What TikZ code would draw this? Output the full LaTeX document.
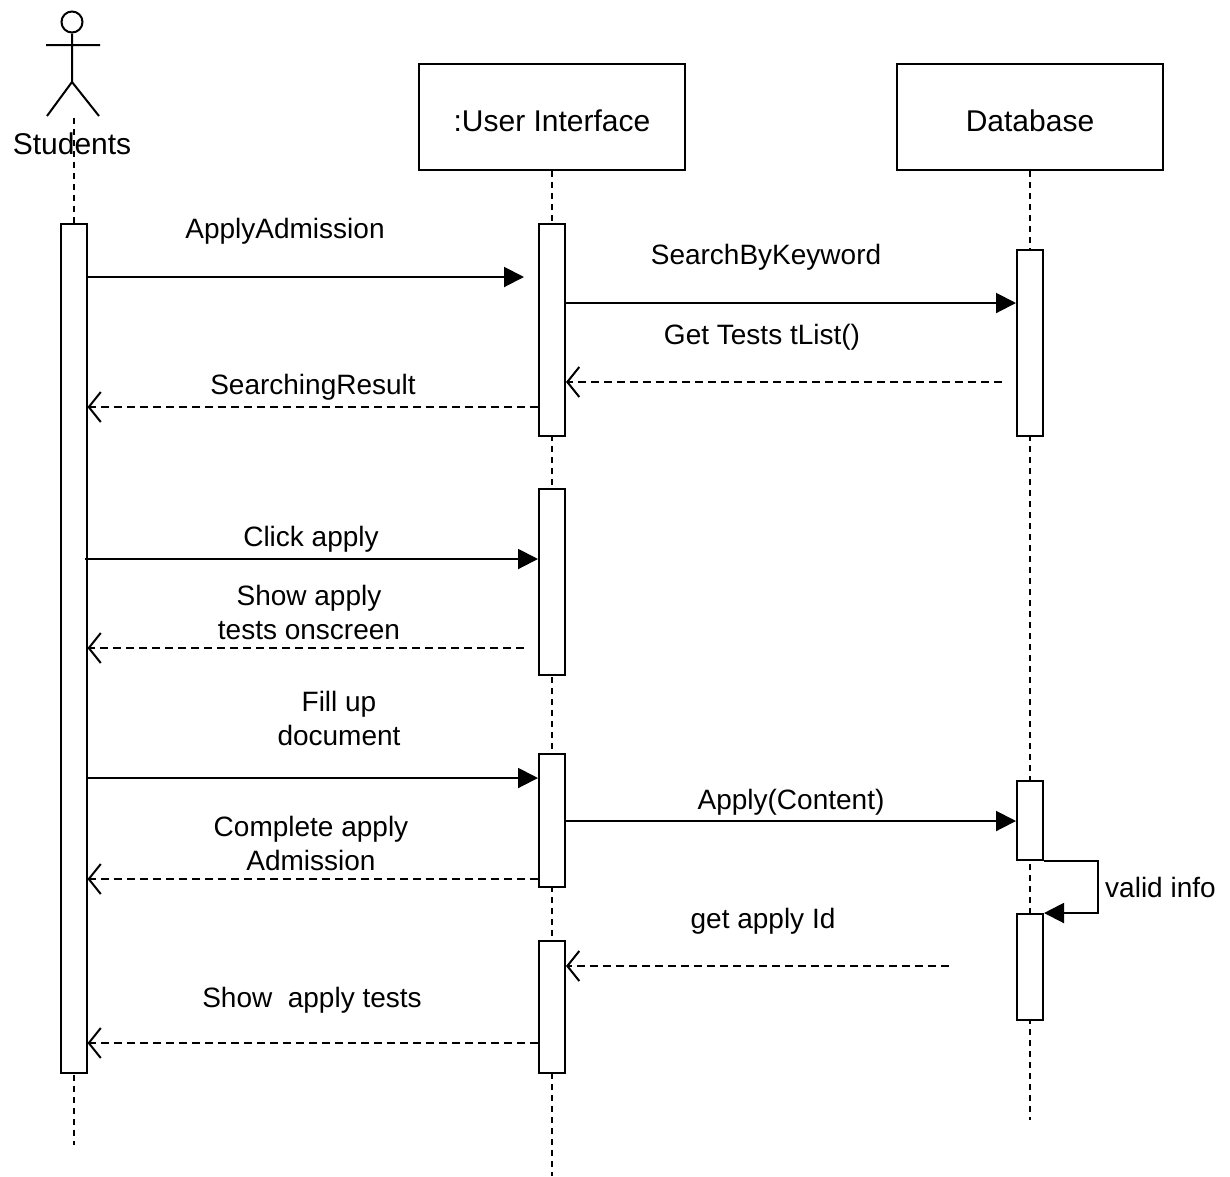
\documentclass[tikz,border=0pt]{standalone}
\usepackage{fontspec}
\setmainfont{Liberation Sans}
\usetikzlibrary{arrows.meta,positioning}
\tikzset{obj/.style={rectangle,draw,line width=2pt,minimum width=266pt,minimum height=106pt,text height=28pt,text depth=0pt,font=\fontsize{30}{36}\selectfont},
  act/.style={rectangle,draw,fill=white,line width=2pt,minimum width=26pt,inner sep=0pt},
  lbl/.style={inner sep=1pt,align=center,yshift=-3pt,font=\fontsize{28}{34}\selectfont},
  life/.style={line width=1.6pt,dash pattern=on 6pt off 5pt},
  msg/.style={line width=2pt,-{Triangle[length=20pt,width=20pt]}},
  ret/.style={line width=1.6pt,dash pattern=on 8pt off 5pt,-{Straight Barb[length=12pt,width=30pt,line width=2pt]}}}

\begin{document}
\begin{tikzpicture}[x=1pt,y=-1pt]
  \useasboundingbox (0,0) rectangle (1230,1176);
  % actor and objects
  \node[circle,draw,line width=2pt,minimum size=21pt,inner sep=0pt] (head) at (72,22) {};
  \coordinate (hip) at (72,82);
  \draw[line width=2pt] (head.south) -- (hip) (46,45) -- (100,45) (47,116) -- (hip) -- (99,116);
  \node[font=\fontsize{30}{36}\selectfont] (stud) at (72,144) {Students};
  \node[obj] (ui) at (552,117) {:User Interface};
  \node[obj] (db) at (1030,117) {Database};
  % lifelines
  \coordinate (sEnd) at (74,1145);
  \coordinate (uEnd) at (552,1176);
  \coordinate (dEnd) at (1030,1120);
  \draw[life] (74,118) -- (sEnd);
  \draw[life] (ui.south) -- (uEnd);
  \draw[life] (db.south) -- (dEnd);
  % activations
  \node[act, minimum height=849pt] (sa) at (73.5,648.5) {};
  \node[act, minimum height=212pt] (ua1) at (552,330) {};
  \node[act, minimum height=186pt] (ua2) at (552,582) {};
  \node[act, minimum height=133pt] (ua3) at (552,820.5) {};
  \node[act, minimum height=132pt] (ua4) at (552,1007) {};
  \node[act, minimum height=186pt] (da1) at (1030,343) {};
  \node[act, minimum height=79pt] (da2) at (1030,820.5) {};
  \node[act, minimum height=106pt] (da3) at (1030,967) {};
  % messages
  \draw[msg] (sa.east |- 0,277) -- ([xshift=-14pt]ua1.west |- 0,277);
  \draw[msg] (ua1.east |- 0,303) -- (da1.west |- 0,303);
  \draw[ret] ([xshift=-14pt]da1.west |- 0,382) -- (ua1.east |- 0,382);
  \draw[ret] (ua1.west |- 0,407) -- (sa.east |- 0,407);
  \draw[msg] ([xshift=-3pt]sa.east |- 0,559) -- (ua2.west |- 0,559);
  \draw[ret] ([xshift=-14pt]ua2.west |- 0,648) -- (sa.east |- 0,648);
  \draw[msg] (sa.east |- 0,778) -- (ua3.west |- 0,778);
  \draw[msg] (ua3.east |- 0,821) -- (da2.west |- 0,821);
  \draw[ret] (ua3.west |- 0,879) -- (sa.east |- 0,879);
  \draw[msg] (da2.south east) -- ++(54,0) |- (da3.north east);
  \draw[ret] ([xshift=-67pt]da3.west |- 0,966) -- (ua4.east |- 0,966);
  \draw[ret] (ua4.west |- 0,1043) -- (sa.east |- 0,1043);
  % labels
  \node[lbl] (l1) at (285,228) {ApplyAdmission};
  \node[lbl] (l2) at (766,254) {SearchByKeyword};
  \node[lbl] (l3) at (762,334) {Get Tests tList()};
  \node[lbl] (l4) at (313,384) {SearchingResult};
  \node[lbl] (l5) at (311,536) {Click apply};
  \node[lbl] (l6) at (309,609) {Show apply\\tests onscreen};
  \node[lbl] (l7) at (339,715) {Fill up\\document};
  \node[lbl] (l8) at (791,799) {Apply(Content)};
  \node[lbl] (l9) at (311,840) {Complete apply\\Admission};
  \node[lbl, anchor=west] (l10) at (1104,884) {valid info};
  \node[lbl] (l11) at (763,918) {get apply Id};
  \node[lbl] (l12) at (312,997) {Show~~apply tests};
\end{tikzpicture}
\end{document}
